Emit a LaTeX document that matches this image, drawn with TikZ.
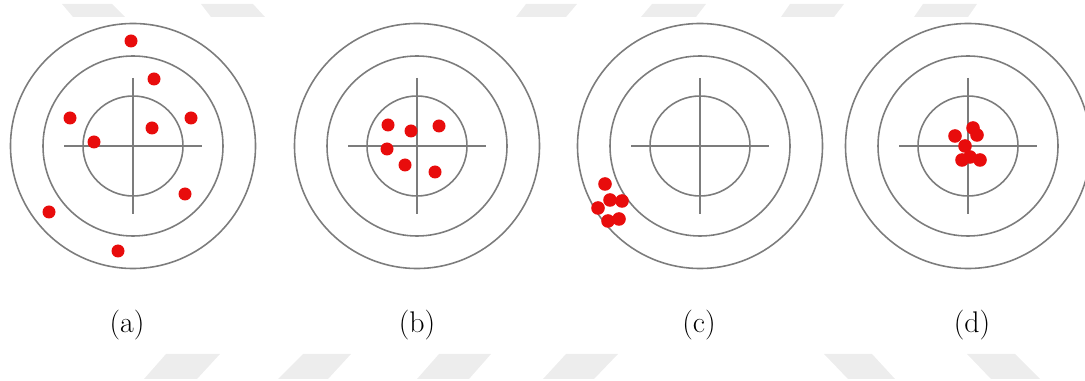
\documentclass[tikz,border=0pt]{standalone}
\usepackage{tikz}
\usetikzlibrary{calc}
\definecolor{ringgray}{HTML}{7C7C7C}
\definecolor{shotred}{HTML}{E80C0C}
\definecolor{markgray}{HTML}{EDEDED}
\tikzset{
  ring/.style={draw=ringgray, line width=0.9pt},
  cross/.style={draw=ringgray, line width=0.85pt},
  shot/.style={fill=shotred},
  caption/.style={font=\fontsize{17}{20}\selectfont},
  wmark/.style={fill=markgray}
}
\begin{document}
\begin{tikzpicture}[x=0.02cm, y=-0.02cm]
  \useasboundingbox (0,0) rectangle (1085,381);
  \clip (0,0) rectangle (1085,381);
  % faint marks along top and bottom edges
  \foreach \a/\b/\c/\d in {62/112/125/73, 201/253/265/211, 526/577/566/516,
      652/706/696/641, 790/844/834/781, 923/977/968/914}
    \fill[wmark] (\a,4) -- (\b,4) -- (\c,17) -- (\d,17) -- cycle;
  \foreach \a/\b/\c/\d in {166/220/197/144, 303/351/328/278, 439/491/469/417,
      566/618/594/543, 824/872/895/848, 967/1015/1040/991}
    \fill[wmark] (\a,354) -- (\b,354) -- (\c,379) -- (\d,379) -- cycle;
  % the four targets
  \foreach \name/\cx in {ta/133, tb/417, tc/700, td/968} {
    \coordinate (\name) at (\cx,146);
    \draw[ring] (\name) circle[radius=122.5];
    \draw[ring] (\name) circle[radius=90];
    \draw[ring] (\name) circle[radius=50];
    \draw[cross] ($(\name)+(-69,0)$) -- ($(\name)+(69,0)$);
    \draw[cross] ($(\name)+(0,-68)$) -- ($(\name)+(0,68)$);
  }
  % hits
  \foreach \dx/\dy in {-2/-105, 21/-67, -63/-28, 19/-18, 58/-28, -39/-4,
      52/48, -84/66, -15/105}
    \fill[shot, shift={(ta)}] (\dx,\dy) circle[radius=6.5];
  \foreach \dx/\dy in {-29/-21, -6/-15, 22/-20, -30/3, -12/19, 18/26}
    \fill[shot, shift={(tb)}] (\dx,\dy) circle[radius=6.5];
  \foreach \dx/\dy in {-95/38, -90/54, -78/55, -102/62, -92/75, -81/73}
    \fill[shot, shift={(tc)}] (\dx,\dy) circle[radius=6.8];
  \foreach \dx/\dy in {-13/-10, 5/-18, 9/-11, -3/0, -6/14, 2/11, 12/14}
    \fill[shot, shift={(td)}] (\dx,\dy) circle[radius=6.8];
  % captions
  \node[caption] (la) at (127,325) {(a)};
  \node[caption] (lb) at (417,325) {(b)};
  \node[caption] (lc) at (699,325) {(c)};
  \node[caption] (ld) at (972,325) {(d)};
\end{tikzpicture}
\end{document}
